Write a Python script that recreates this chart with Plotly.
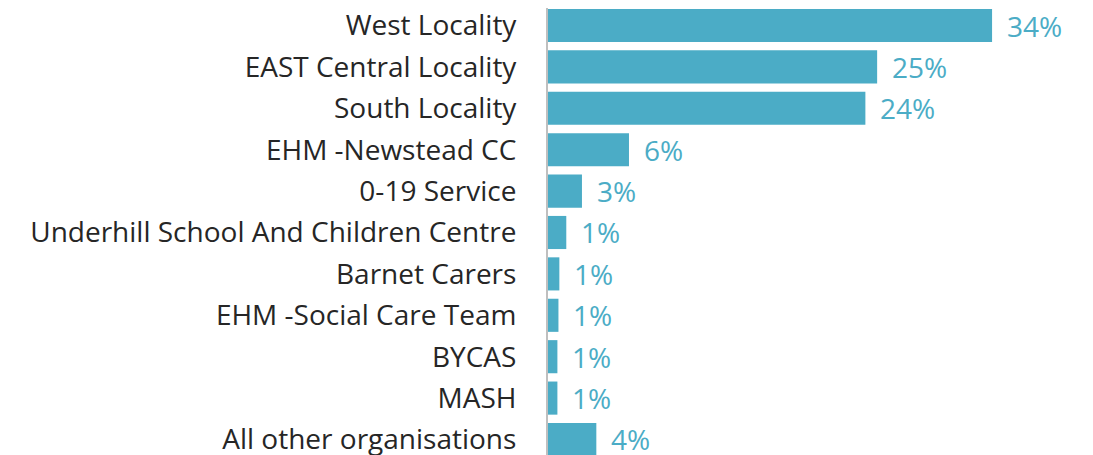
import plotly.graph_objects as go

categories = [
    "West Locality",
    "EAST Central Locality",
    "South Locality",
    "EHM -Newstead CC",
    "0-19 Service",
    "Underhill School And Children Centre",
    "Barnet Carers",
    "EHM -Social Care Team",
    "BYCAS",
    "MASH",
    "All other organisations",
]
values = [34.0, 25.2, 24.3, 6.2, 2.6, 1.4, 0.87, 0.8, 0.72, 0.72, 3.7]
labels = ["34%", "25%", "24%", "6%", "3%", "1%", "1%", "1%", "1%", "1%", "4%"]

BAR = "#4BACC6"
FONT = "Open Sans"

fig = go.Figure(
    go.Bar(
        x=values,
        y=categories,
        orientation="h",
        marker=dict(color=BAR, line=dict(width=0)),
        hoverinfo="skip",
    )
)

for c, v, t in zip(categories, values, labels):
    fig.add_annotation(
        x=v, y=c, text=t, showarrow=False, xanchor="left", yanchor="middle",
        xshift=13, font=dict(family=FONT, size=28, color=BAR),
    )

fig.update_layout(
    width=1093,
    height=455,
    margin=dict(l=540, r=0, t=0, b=0),
    paper_bgcolor="white",
    plot_bgcolor="white",
    bargap=0.2,
    showlegend=False,
    font=dict(family=FONT, size=28, color="#262626"),
)
fig.update_xaxes(
    range=[0, 42.34], visible=False, showgrid=False, zeroline=False,
)
fig.update_yaxes(
    type="category",
    categoryorder="array",
    categoryarray=categories,
    range=[10.568, -0.4227],
    showgrid=False,
    zeroline=False,
    showline=True,
    linecolor="#BFBFBF",
    linewidth=2,
    ticks="",
    ticklabelstandoff=24,
    automargin=False,
    tickfont=dict(family=FONT, size=28, color="#262626"),
)

fig.write_html("out.html")
